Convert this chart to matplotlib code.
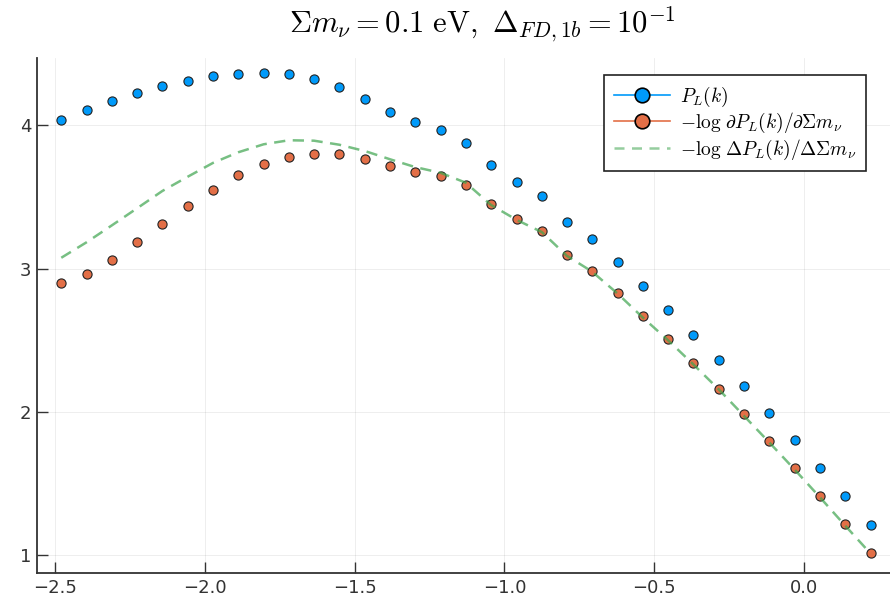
import numpy as np
import matplotlib
matplotlib.use("Agg")
import matplotlib.pyplot as plt
from matplotlib.lines import Line2D
from matplotlib.ticker import FuncFormatter

plt.rcParams['mathtext.fontset'] = 'cm'
plt.rcParams['font.family'] = ['Liberation Sans Narrow', 'DejaVu Sans']

# log10 k values
log_k = [-2.478, -2.393, -2.308, -2.224, -2.141, -2.055, -1.972, -1.888, -1.803,
         -1.719, -1.635, -1.551, -1.464, -1.381, -1.298, -1.213, -1.129, -1.045,
         -0.959, -0.875, -0.792, -0.708, -0.622, -0.539, -0.454, -0.370, -0.284,
         -0.202, -0.117, -0.032, 0.052, 0.136, 0.221]

pl = [4.039, 4.105, 4.167, 4.223, 4.272, 4.309, 4.344, 4.360, 4.367, 4.356, 4.321,
      4.265, 4.184, 4.095, 4.023, 3.967, 3.876, 3.721, 3.602, 3.507, 3.326, 3.207,
      3.044, 2.876, 2.710, 2.539, 2.362, 2.179, 1.992, 1.801, 1.608, 1.411, 1.210]

dpl_exact = [2.900, 2.964, 3.062, 3.184, 3.311, 3.437, 3.551, 3.651, 3.728, 3.781,
             3.802, 3.798, 3.763, 3.716, 3.674, 3.646, 3.583, 3.449, 3.346, 3.260,
             3.093, 2.985, 2.832, 2.667, 2.507, 2.339, 2.162, 1.983, 1.795, 1.606,
             1.413, 1.216, 1.018]

dpl_fd = [3.076, 3.185, 3.304, 3.423, 3.542, 3.643, 3.738, 3.812, 3.868, 3.896,
          3.893, 3.865, 3.820, 3.763, 3.709, 3.669, 3.600, 3.445, 3.340, 3.255,
          3.090, 2.980, 2.825, 2.660, 2.500, 2.332, 2.155, 1.975, 1.788, 1.598,
          1.405, 1.208, 1.012]

labels = [r'$P_L(k)$',
          r'$-\log\,\partial P_L(k)/\partial\Sigma m_\nu$',
          r'$-\log\,\Delta P_L(k)/\Delta\Sigma m_\nu$']

blue = '#009AFA'
orange = '#E36F47'
green = '#3EA44E'

fig = plt.figure(figsize=(8.9, 5.99), dpi=100)
ax = fig.add_axes([37/890, 1 - 573.3/599, (890 - 37)/890, (573.3 - 58.3)/599])

ax.plot(log_k, pl, 'o', ms=6.6, mfc=blue, mec='#222222', mew=0.8, zorder=3)
ax.plot(log_k, dpl_exact, 'o', ms=6.6, mfc=orange, mec='#222222', mew=0.8, zorder=3)
ax.plot(log_k, dpl_fd, '--', color=green, lw=1.8, alpha=0.7, dashes=(4.5, 3), zorder=4)

ax.set_xlim(-2.559, 0.286)
ax.set_ylim(0.874, 4.468)
ax.set_xticks([-2.5, -2.0, -1.5, -1.0, -0.5, 0.0])
ax.set_yticks([1, 2, 3, 4])
ax.xaxis.set_major_formatter(FuncFormatter(lambda v, p: ('%.1f' % v).replace('-', '\u2212')))
ax.yaxis.set_major_formatter(FuncFormatter(lambda v, p: '%d' % v))
ax.grid(True, color='black', alpha=0.08, lw=0.6)
for s in ['top', 'right']:
    ax.spines[s].set_visible(False)
for s in ['left', 'bottom']:
    ax.spines[s].set_linewidth(1.3)
    ax.spines[s].set_color('#333333')
ax.tick_params(direction='in', length=8, width=1.0, color='#333333',
               labelsize=13, labelcolor='#333333', pad=4)

fig.text(482/890, 1 - 25/599,
         r'$\Sigma m_\nu = 0.1\ \mathrm{eV},\ \Delta_{FD,1b} = 10^{-1}$',
         ha='center', va='center', fontsize=22)

handles = [
    Line2D([], [], color=blue, lw=1.2, marker='o', ms=10.5, mfc=blue, mec='black', mew=1.2),
    Line2D([], [], color=orange, lw=1.2, marker='o', ms=10.5, mfc=orange, mec='black', mew=1.2),
    Line2D([], [], color=green, lw=1.8, ls='--', alpha=0.55, dashes=(4, 3)),
]
leg = ax.legend(handles, labels, loc='upper right', bbox_to_anchor=(866/890, 1 - 75/599),
                bbox_transform=fig.transFigure, borderaxespad=0, fontsize=14,
                handlelength=2.9, handletextpad=0.5, labelspacing=0.12,
                fancybox=False, framealpha=1, edgecolor='#222222', borderpad=0.5)
leg.get_frame().set_linewidth(1.2)

fig.savefig('out.png', dpi=100)
